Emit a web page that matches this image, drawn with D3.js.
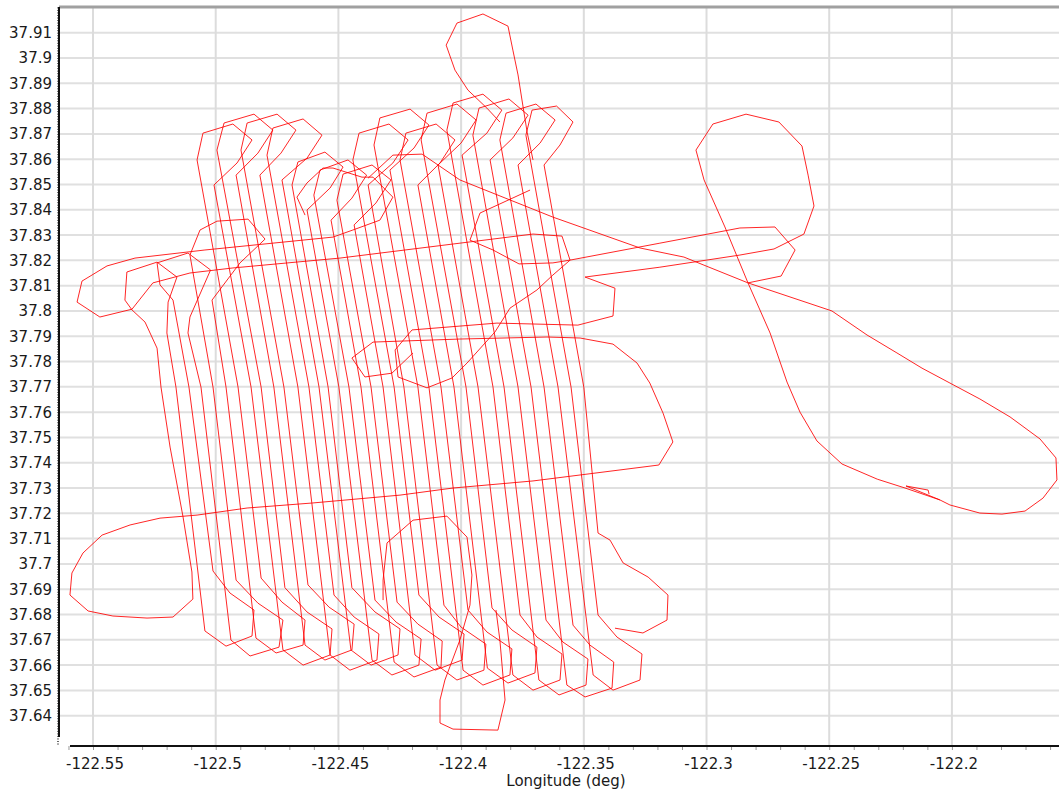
<!DOCTYPE html>
<html>
<head>
<meta charset="utf-8">
<script src="https://cdn.jsdelivr.net/npm/d3@7"></script>
<style>
  html, body { margin: 0; padding: 0; background: #ffffff; }
  svg { display: block; font-family: "DejaVu Sans", Verdana, sans-serif; }
</style>
</head>
<body>
<svg id="chart" width="1059" height="795"></svg>
<script>
// ---- axis ticks and labels ----
const lonTicks  = [-122.55, -122.5, -122.45, -122.4, -122.35, -122.3, -122.25, -122.2];
const lonLabels = ["-122.55", "-122.5", "-122.45", "-122.4", "-122.35", "-122.3", "-122.25", "-122.2"];
const latTicks  = [37.64, 37.65, 37.66, 37.67, 37.68, 37.69, 37.7, 37.71, 37.72, 37.73, 37.74, 37.75, 37.76,
                   37.77, 37.78, 37.79, 37.8, 37.81, 37.82, 37.83, 37.84, 37.85, 37.86, 37.87, 37.88, 37.89, 37.9, 37.91];
const latLabels = ["37.64", "37.65", "37.66", "37.67", "37.68", "37.69", "37.7", "37.71", "37.72", "37.73", "37.74",
                   "37.75", "37.76", "37.77", "37.78", "37.79", "37.8", "37.81", "37.82", "37.83", "37.84", "37.85",
                   "37.86", "37.87", "37.88", "37.89", "37.9", "37.91"];
const xTitle = "Longitude (deg)";

// ---- flight track, [longitude, latitude] ----
const runway = [[-122.2093,37.7276],[-122.2097,37.7292],[-122.2187,37.7308],[-122.2049,37.7253]];

const outboundLoop = [
  [-122.2049,37.7253],[-122.2191,37.7300],[-122.2304,37.7335],[-122.2448,37.7395],[-122.2550,37.7486],
  [-122.2619,37.7600],[-122.2672,37.7719],[-122.2741,37.7913],[-122.2831,37.8111],[-122.2925,37.8332],
  [-122.3010,37.8518],[-122.3043,37.8636],[-122.2974,37.8739],[-122.2839,37.8778],[-122.2705,37.8747],
  [-122.2611,37.8652],[-122.2586,37.8537],[-122.2562,37.8415],[-122.2603,37.8304],[-122.2725,37.8245],
  [-122.2864,37.8221],[-122.3190,37.8173],[-122.3495,37.8134],[-122.3373,37.8090],[-122.3381,37.7980],
  [-122.3524,37.7944],[-122.3854,37.7952],[-122.4200,37.7925],[-122.4269,37.7846],[-122.4257,37.7739],
  [-122.4139,37.7696],[-122.4037,37.7735],[-122.3976,37.7794],[-122.3862,37.7917],[-122.3801,37.8011],
  [-122.3691,37.8083],[-122.3626,37.8142],[-122.3556,37.8201],[-122.3626,37.8190],[-122.3764,37.8186],
  [-122.3870,37.8241],[-122.3964,37.8280],[-122.3923,37.8387],[-122.3719,37.8478]
];

const transectLoop = [
  [-122.4636,37.8379],[-122.4669,37.8450],[-122.4628,37.8506],[-122.4563,37.8565],[-122.4522,37.8565],
  [-122.4404,37.8529],[-122.4359,37.8529],[-122.4278,37.8450],[-122.4331,37.8359],[-122.4441,37.8320],
  [-122.4522,37.8292],[-122.5044,37.8241],[-122.5329,37.8209],[-122.5443,37.8178],[-122.5545,37.8118],
  [-122.5565,37.8035],[-122.5472,37.7976],[-122.5341,37.8007],[-122.5256,37.8111],[-122.5105,37.8150],
  [-122.4930,37.8170],[-122.4494,37.8209],[-122.3707,37.8304],[-122.3589,37.8296],[-122.3556,37.8201],
  [-122.3190,37.8268],[-122.2864,37.8328],[-122.2721,37.8332],[-122.2639,37.8241],[-122.2696,37.8138],
  [-122.2831,37.8111]
];

const returnLeg = [
  [-122.4379,37.8525],[-122.4278,37.8616],[-122.4159,37.8620],[-122.4005,37.8518],[-122.3626,37.8371],
  [-122.3271,37.8249],[-122.3092,37.8213],[-122.2831,37.8111],[-122.2489,37.8000],[-122.2346,37.7905],
  [-122.2224,37.7834],[-122.2122,37.7774],[-122.2008,37.7715],[-122.1886,37.7652],[-122.1763,37.7581],
  [-122.1641,37.7494],[-122.1576,37.7419],[-122.1572,37.7332],[-122.1629,37.7260],[-122.1702,37.7209],
  [-122.1796,37.7197],[-122.1886,37.7201],[-122.2008,37.7233],[-122.2049,37.7253]
];

const northLoop = [
  [-122.3842,37.8747],[-122.3895,37.8802],[-122.3972,37.8873],[-122.4025,37.8952],[-122.4061,37.9051],
  [-122.4017,37.9138],[-122.3911,37.9174],[-122.3809,37.9126],[-122.3789,37.9031],[-122.3768,37.8933],
  [-122.3752,37.8834],[-122.3731,37.8707],[-122.3707,37.8597]
];

const southLoop = [
  [-122.4318,37.6857],[-122.4318,37.6936],[-122.4302,37.7083],[-122.4196,37.7173],[-122.4058,37.7189],
  [-122.3976,37.7106],[-122.3956,37.6956],[-122.3964,37.6837],[-122.4005,37.6699],[-122.4066,37.6541],
  [-122.4086,37.6462],[-122.4086,37.6371],[-122.4033,37.6347],[-122.3850,37.6343],[-122.3821,37.6462],
  [-122.3829,37.6553],[-122.3842,37.6699],[-122.3858,37.6818]
];

const crossTrack = [
  [-122.4196,37.7834],[-122.4282,37.7754],[-122.4392,37.7739],[-122.4445,37.7814],[-122.4359,37.7877],
  [-122.4005,37.7889],[-122.3650,37.7897],[-122.3515,37.7893],[-122.3381,37.7869],[-122.3283,37.7794],
  [-122.3231,37.7715],[-122.3177,37.7596],[-122.3137,37.7482],[-122.3194,37.7391],[-122.3324,37.7375],
  [-122.3707,37.7328],[-122.4033,37.7300],[-122.4249,37.7272],[-122.4604,37.7241],[-122.4872,37.7221],
  [-122.5076,37.7193],[-122.5227,37.7181],[-122.5349,37.7154],[-122.5463,37.7114],[-122.5541,37.7043],
  [-122.5586,37.6964],[-122.5594,37.6877],[-122.5520,37.6814],[-122.5419,37.6794],[-122.5280,37.6786],
  [-122.5174,37.6790],[-122.5093,37.6861]
];

const surveyLegs = [
  [-122.5093,37.6861],[-122.5097,37.6968],[-122.5133,37.7185],[-122.5186,37.7462],[-122.5223,37.7699],
  [-122.5239,37.7853],[-122.5288,37.7956],[-122.5341,37.8004],[-122.5370,37.8043],[-122.5362,37.8154],
  [-122.5239,37.8193],[-122.5158,37.8134],[-122.5194,37.8035],[-122.5199,37.7913],
  [-122.5162,37.7699],[-122.5044,37.6735],
  [-122.4958,37.6675],[-122.4852,37.6715],[-122.4844,37.6818],[-122.4942,37.6885],
  [-122.5011,37.6972],[-122.5109,37.7699],[-122.5174,37.8043],
  [-122.5227,37.8103],[-122.5239,37.8190],[-122.5113,37.8229],[-122.5021,37.8162],[-122.5105,37.7976],[-122.5113,37.7913],
  [-122.5060,37.7699],[-122.4938,37.6699],
  [-122.4860,37.6636],[-122.4742,37.6671],[-122.4726,37.6778],[-122.4828,37.6845],
  [-122.4917,37.6936],[-122.5011,37.7699],[-122.5105,37.8221],
  [-122.5064,37.8320],[-122.4995,37.8355],[-122.4868,37.8363],[-122.4799,37.8284],[-122.4901,37.8190],[-122.5015,37.8043],
  [-122.4958,37.7699],[-122.4836,37.6707],
  [-122.4754,37.6648],[-122.4644,37.6679],[-122.4636,37.6778],[-122.4730,37.6849],
  [-122.4815,37.6944],[-122.4909,37.7699],[-122.5076,37.8597],
  [-122.5052,37.8703],[-122.4930,37.8739],[-122.4852,37.8676],[-122.4913,37.8585],
  [-122.5007,37.8498],[-122.4856,37.7699],[-122.4726,37.6660],
  [-122.4644,37.6600],[-122.4534,37.6640],[-122.4526,37.6743],[-122.4628,37.6810],
  [-122.4718,37.6906],[-122.4815,37.7699],[-122.4995,37.8636],
  [-122.4966,37.8743],[-122.4844,37.8778],[-122.4767,37.8715],[-122.4828,37.8624],
  [-122.4917,37.8537],[-122.4763,37.7699],[-122.4636,37.6679],
  [-122.4555,37.6620],[-122.4445,37.6660],[-122.4436,37.6762],[-122.4538,37.6829],
  [-122.4624,37.6917],[-122.4722,37.7699],[-122.4897,37.8636],
  [-122.4872,37.8743],[-122.4750,37.8778],[-122.4673,37.8715],[-122.4734,37.8624],
  [-122.4820,37.8537],[-122.4665,37.7699],[-122.4534,37.6640],
  [-122.4453,37.6580],[-122.4343,37.6620],[-122.4335,37.6723],[-122.4436,37.6790],
  [-122.4518,37.6877],[-122.4620,37.7699],[-122.4791,37.8616],
  [-122.4767,37.8723],[-122.4644,37.8759],[-122.4567,37.8695],[-122.4628,37.8604],
  [-122.4730,37.8518],[-122.4579,37.7699],[-122.4449,37.6660],
  [-122.4367,37.6600],[-122.4257,37.6640],[-122.4249,37.6743],[-122.4351,37.6810],
  [-122.4445,37.6906],[-122.4542,37.7699],[-122.4689,37.8498],
  [-122.4665,37.8589],[-122.4555,37.8628],[-122.4481,37.8569],[-122.4534,37.8486],
  [-122.4628,37.8399],[-122.4498,37.7699],[-122.4363,37.6620],
  [-122.4282,37.6561],[-122.4172,37.6600],[-122.4163,37.6703],[-122.4265,37.6770],
  [-122.4351,37.6857],[-122.4457,37.7699],[-122.4600,37.8458],
  [-122.4575,37.8557],[-122.4461,37.8597],[-122.4385,37.8537],[-122.4445,37.8446],
  [-122.4530,37.8359],[-122.4408,37.7699],[-122.4273,37.6612],
  [-122.4192,37.6553],[-122.4082,37.6592],[-122.4077,37.6695],[-122.4176,37.6762],
  [-122.4261,37.6849],[-122.4367,37.7699],[-122.4506,37.8438],
  [-122.4481,37.8541],[-122.4363,37.8577],[-122.4286,37.8518],[-122.4347,37.8427],
  [-122.4436,37.8340],[-122.4318,37.7699],[-122.4188,37.6640],
  [-122.4106,37.6580],[-122.3996,37.6620],[-122.3988,37.6723],[-122.4090,37.6790],
  [-122.4172,37.6877],[-122.4273,37.7699],[-122.4441,37.8597],
  [-122.4416,37.8703],[-122.4294,37.8739],[-122.4216,37.8676],[-122.4278,37.8585],
  [-122.4379,37.8498],[-122.4233,37.7699],[-122.4098,37.6600],
  [-122.4017,37.6541],[-122.3907,37.6580],[-122.3899,37.6683],[-122.4000,37.6750],
  [-122.4070,37.6837],[-122.4176,37.7699],[-122.4355,37.8656],
  [-122.4331,37.8763],[-122.4208,37.8798],[-122.4131,37.8735],[-122.4192,37.8644],
  [-122.4290,37.8557],[-122.4131,37.7699],[-122.3992,37.6580],
  [-122.3911,37.6521],[-122.3801,37.6561],[-122.3793,37.6664],[-122.3895,37.6731],
  [-122.3972,37.6818],[-122.4082,37.7699],[-122.4249,37.8597],
  [-122.4225,37.8703],[-122.4102,37.8739],[-122.4025,37.8676],[-122.4086,37.8585],
  [-122.4176,37.8498],[-122.4029,37.7699],[-122.3893,37.6588],
  [-122.3809,37.6529],[-122.3699,37.6569],[-122.3691,37.6671],[-122.3793,37.6739],
  [-122.3874,37.6826],[-122.3980,37.7699],[-122.4163,37.8676],
  [-122.4139,37.8782],[-122.4017,37.8818],[-122.3939,37.8755],[-122.4000,37.8664],
  [-122.4094,37.8577],[-122.3931,37.7699],[-122.3789,37.6561],
  [-122.3707,37.6501],[-122.3597,37.6541],[-122.3589,37.6644],[-122.3691,37.6711],
  [-122.3760,37.6798],[-122.3870,37.7699],[-122.4058,37.8715],
  [-122.4033,37.8822],[-122.3911,37.8857],[-122.3834,37.8794],[-122.3895,37.8703],
  [-122.3996,37.8616],[-122.3825,37.7699],[-122.3683,37.6541],
  [-122.3601,37.6482],[-122.3491,37.6521],[-122.3483,37.6624],[-122.3585,37.6691],
  [-122.3654,37.6778],[-122.3768,37.7699],[-122.3952,37.8695],
  [-122.3927,37.8802],[-122.3805,37.8838],[-122.3727,37.8774],[-122.3789,37.8684],
  [-122.3882,37.8597],[-122.3715,37.7699],[-122.3569,37.6521],
  [-122.3495,37.6474],[-122.3385,37.6509],[-122.3378,37.6612],[-122.3475,37.6679],
  [-122.3544,37.6758],[-122.3662,37.7699],[-122.3842,37.8676],
  [-122.3817,37.8782],[-122.3695,37.8818],[-122.3617,37.8755],[-122.3678,37.8664],
  [-122.3768,37.8577],[-122.3605,37.7699],[-122.3462,37.6561],
  [-122.3381,37.6501],[-122.3271,37.6541],[-122.3263,37.6644],[-122.3365,37.6711],
  [-122.3442,37.6798],[-122.3552,37.7699],[-122.3736,37.8695],
  [-122.3711,37.8794],[-122.3611,37.8810],[-122.3544,37.8747],[-122.3597,37.8656],
  [-122.3662,37.8577],[-122.3500,37.7699],[-122.3442,37.7122],[-122.3393,37.7094],[-122.3340,37.7004],
  [-122.3238,37.6948],[-122.3157,37.6877],[-122.3161,37.6778],[-122.3259,37.6727],[-122.3373,37.6746]
];

const trackSegments = [runway, outboundLoop, transectLoop, returnLeg, northLoop, southLoop, crossTrack, surveyLegs];

// ---- layout ----
const W = 1059, H = 795;
const plot = { left: 59, right: 1059, top: 7, bottom: 746 };

const x = d3.scaleLinear().domain([-122.56386, -122.15636]).range([plot.left, plot.right]);
const y = d3.scaleLinear().domain([37.62802, 37.92016]).range([plot.bottom, plot.top]);

const svg = d3.select("#chart");

svg.append("defs").append("clipPath").attr("id", "plotClip")
  .append("rect")
  .attr("x", plot.left).attr("y", plot.top)
  .attr("width", plot.right - plot.left).attr("height", plot.bottom - plot.top);

// grid
const grid = svg.append("g").attr("class", "grid");
grid.selectAll("line.h").data(latTicks).join("line")
  .attr("class", "h")
  .attr("x1", plot.left).attr("x2", plot.right)
  .attr("y1", d => y(d)).attr("y2", d => y(d))
  .attr("stroke", "#e0e0e0").attr("stroke-width", 2);
grid.selectAll("line.v").data(lonTicks).join("line")
  .attr("class", "v")
  .attr("y1", plot.top).attr("y2", plot.bottom)
  .attr("x1", d => x(d)).attr("x2", d => x(d))
  .attr("stroke", "#dcdcdc").attr("stroke-width", 2);

// top frame line
svg.append("line")
  .attr("x1", plot.left).attr("x2", plot.right)
  .attr("y1", plot.top).attr("y2", plot.top)
  .attr("stroke", "#a0a0a0").attr("stroke-width", 3);

// track
const line = d3.line().x(d => x(d[0])).y(d => y(d[1]));
svg.append("g").attr("clip-path", "url(#plotClip)")
  .selectAll("path").data(trackSegments).join("path")
  .attr("d", line)
  .attr("fill", "none")
  .attr("stroke", "#ff0000")
  .attr("stroke-opacity", 0.85)
  .attr("stroke-width", 1)
  .attr("stroke-linejoin", "round");

// y axis: minor ticks every 0.001 deg
const yMinor = y.ticks(300);
const yAxis = d3.axisLeft(y).tickValues(yMinor).tickSize(2).tickFormat("");
const gy = svg.append("g").attr("transform", `translate(${plot.left},0)`).call(yAxis);
gy.select(".domain").remove();
gy.selectAll(".tick line").attr("stroke", "#666").attr("stroke-width", 1);

svg.append("line")
  .attr("x1", plot.left).attr("x2", plot.left)
  .attr("y1", plot.top).attr("y2", 737)
  .attr("stroke", "#111").attr("stroke-width", 2);

svg.append("g").selectAll("text").data(latTicks).join("text")
  .attr("x", 52)
  .attr("y", d => y(d) + 5.5)
  .attr("text-anchor", "end")
  .attr("font-size", 15)
  .attr("fill", "#1a1a1a")
  .text((d, i) => latLabels[i]);

// x axis: minor ticks every 0.01 deg
const xMinor = x.ticks(40).filter(v => v >= -122.56 && v <= -122.16);
const xAxis = d3.axisBottom(x).tickValues(xMinor).tickSize(4).tickFormat("");
const gx = svg.append("g").attr("transform", `translate(0,${plot.bottom})`).call(xAxis);
gx.select(".domain").remove();
gx.selectAll(".tick line").attr("stroke", "#999").attr("stroke-width", 1);

svg.append("line")
  .attr("x1", 70).attr("x2", plot.right)
  .attr("y1", plot.bottom).attr("y2", plot.bottom)
  .attr("stroke", "#111").attr("stroke-width", 2);

svg.append("g").selectAll("text").data(lonTicks).join("text")
  .attr("x", d => x(d) + 2)
  .attr("y", 769)
  .attr("text-anchor", "middle")
  .attr("font-size", 15)
  .attr("fill", "#1a1a1a")
  .text((d, i) => lonLabels[i]);

svg.append("text")
  .attr("x", 566).attr("y", 786)
  .attr("text-anchor", "middle")
  .attr("font-size", 15)
  .attr("fill", "#1a1a1a")
  .text(xTitle);
</script>
</body>
</html>
